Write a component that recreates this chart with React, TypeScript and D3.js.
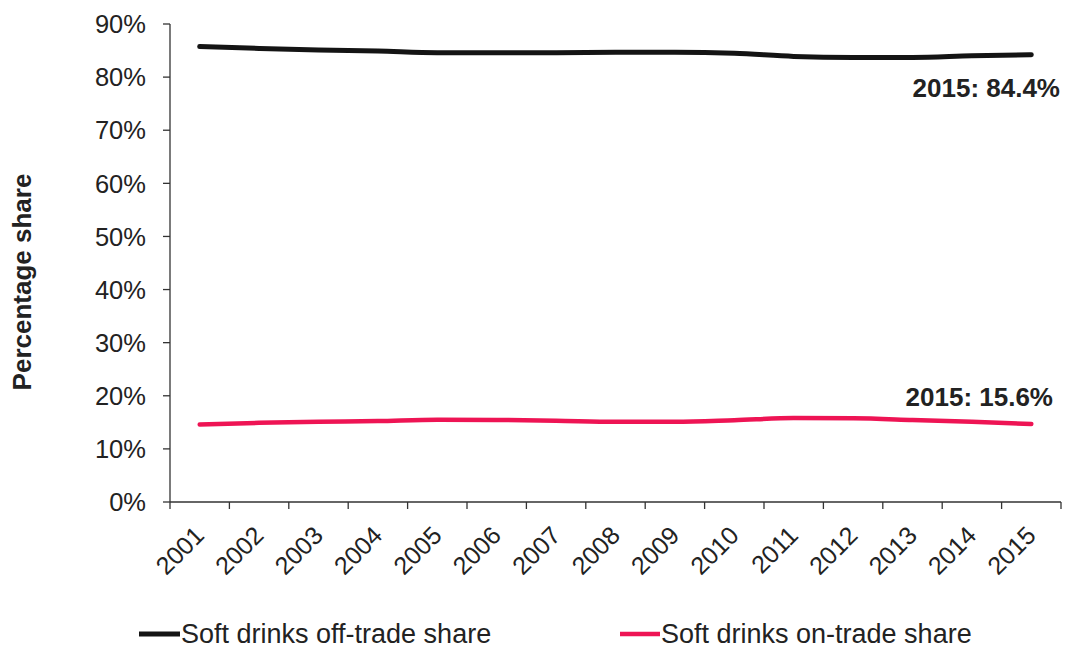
import React from "react";
import * as d3 from "d3";

const years = ["2001","2002","2003","2004","2005","2006","2007","2008","2009","2010","2011","2012","2013","2014","2015"];
const offTrade = [85.75, 85.4, 85.1, 84.9, 84.6, 84.6, 84.6, 84.7, 84.7, 84.5, 83.9, 83.7, 83.7, 84.0, 84.2];
const onTrade = [14.6, 14.9, 15.1, 15.25, 15.5, 15.45, 15.3, 15.1, 15.1, 15.4, 15.8, 15.75, 15.45, 15.1, 14.7];
const yTicks = [0, 10, 20, 30, 40, 50, 60, 70, 80, 90];
const seriesNames = ["Soft drinks off-trade share", "Soft drinks on-trade share"];
const annotations = ["2015: 84.4%", "2015: 15.6%"];

const W = 1065, H = 648;
const FONT = "'Liberation Sans', Arial, sans-serif";
const BLACK = "#141414";
const PINK = "#ee1454";

export default function App() {
  const x = d3.scaleBand<string>().domain(years).range([170, 1061]);
  const y = d3.scaleLinear().domain([0, 90]).range([502, 24]);
  const cx = (yr: string) => (x(yr) as number) + x.bandwidth() / 2;
  const line = d3
    .line<number>()
    .x((_, i) => cx(years[i]))
    .y((d) => y(d))
    .curve(d3.curveMonotoneX);

  const boundaries = years.map((yr) => x(yr) as number).concat([1061]);

  return (
    <svg
      width={W}
      height={H}
      style={{ position: "absolute", left: 0, top: 0, background: "#fff" }}
      fontFamily={FONT}
    >
      {/* y axis */}
      <line x1={170} x2={170} y1={y(90)} y2={y(0)} stroke="#333" strokeWidth={1.3} />
      {yTicks.map((t) => (
        <g key={t}>
          <line x1={163} x2={170} y1={y(t)} y2={y(t)} stroke="#333" strokeWidth={1.3} />
          <text x={146} y={y(t)} dy="0.36em" textAnchor="end" fontSize={25.5} fill="#222">
            {t}%
          </text>
        </g>
      ))}
      {/* x axis */}
      <line x1={170} x2={1061} y1={y(0)} y2={y(0)} stroke="#333" strokeWidth={1.3} />
      {boundaries.map((b, i) => (
        <line key={i} x1={b} x2={b} y1={y(0)} y2={y(0) + 7} stroke="#333" strokeWidth={1.3} />
      ))}
      {years.map((yr) => (
        <text
          key={yr}
          transform={`translate(${cx(yr) + 6},537) rotate(-45)`}
          textAnchor="end"
          fontSize={25}
          fill="#222"
        >
          {yr}
        </text>
      ))}
      {/* axis title */}
      <text
        transform="translate(31,282) rotate(-90)"
        textAnchor="middle"
        fontSize={26}
        fontWeight="bold"
        fill="#222"
      >
        Percentage share
      </text>
      {/* lines */}
      <path d={line(offTrade) || ""} fill="none" stroke={BLACK} strokeWidth={5} strokeLinecap="round" />
      <path d={line(onTrade) || ""} fill="none" stroke={PINK} strokeWidth={4.5} strokeLinecap="round" />
      {/* annotations */}
      <text x={1060} y={97} textAnchor="end" fontSize={26} fontWeight="bold" fill="#222">
        {annotations[0]}
      </text>
      <text x={1053} y={406} textAnchor="end" fontSize={26} fontWeight="bold" fill="#222">
        {annotations[1]}
      </text>
      {/* legend */}
      <line x1={139} x2={180} y1={634} y2={634} stroke={BLACK} strokeWidth={5} />
      <text x={181} y={643} fontSize={27} fill="#222">{seriesNames[0]}</text>
      <line x1={620} x2={660} y1={634} y2={634} stroke={PINK} strokeWidth={4.5} />
      <text x={661} y={643} fontSize={27} fill="#222">{seriesNames[1]}</text>
    </svg>
  );
}
